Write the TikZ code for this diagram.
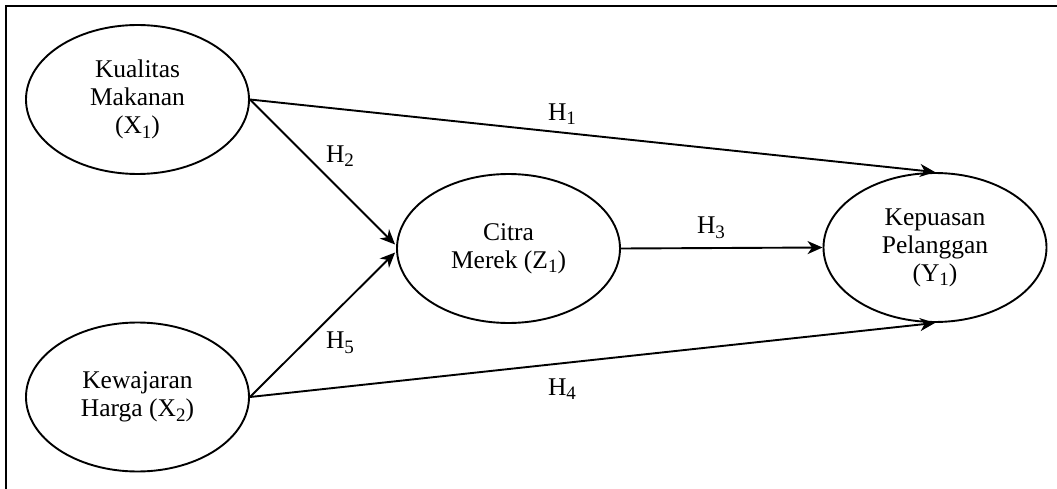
\documentclass[tikz,border=0pt]{standalone}
\usepackage{fontspec}
\setmainfont{Liberation Serif}
\usetikzlibrary{shapes.geometric,arrows.meta,calc}
\newcommand{\sbs}[1]{\raisebox{-0.4ex}{\fontsize{19}{19}\selectfont #1}}
\begin{document}
\begin{tikzpicture}[x=1pt,y=-1pt,
  var/.style={ellipse,draw,line width=1.9pt,minimum width=223pt,minimum height=149pt,inner sep=0pt,align=center,font=\fontsize{25.5}{28}\selectfont},
  conn/.style={line width=1.9pt,-{Stealth[length=15pt,width=13pt,inset=4.5pt]}},
  hlab/.style={inner sep=0pt,font=\fontsize{25.5}{28}\selectfont}]
\useasboundingbox (0,0) rectangle (1057,489);
\draw[line width=1.5pt] (6,489) -- (6,6) -- (1057,6);
\node[var] (X1) at (137.5,99.5) {Kualitas\\Makanan\\(X\sbs{1})};
\node[var] (X2) at (137.5,397) {Kewajaran\\Harga (X\sbs{2})};
\node[var] (Z1) at (508.5,248.5) {Citra\\Merek (Z\sbs{1})};
\node[var] (Y1) at (935,247.5) {Kepuasan\\Pelanggan\\(Y\sbs{1})};
\draw[conn] (X1.east) -- (Y1.north);
\draw[conn] (X2.east) -- (Y1.south);
\draw[conn] (X1.east) -- ($(Z1.west)+(-1,-4)$);
\draw[conn] (X2.east) -- ($(Z1.west)+(-1,4)$);
\draw[conn] (Z1.east) -- (Y1.west);
\node[hlab] (h1) at (562,114) {H\sbs{1}};
\node[hlab] (h2) at (340,156) {H\sbs{2}};
\node[hlab] (h3) at (711,228) {H\sbs{3}};
\node[hlab] (h5) at (340,343) {H\sbs{5}};
\node[hlab] (h4) at (562,389) {H\sbs{4}};
\end{tikzpicture}
\end{document}
